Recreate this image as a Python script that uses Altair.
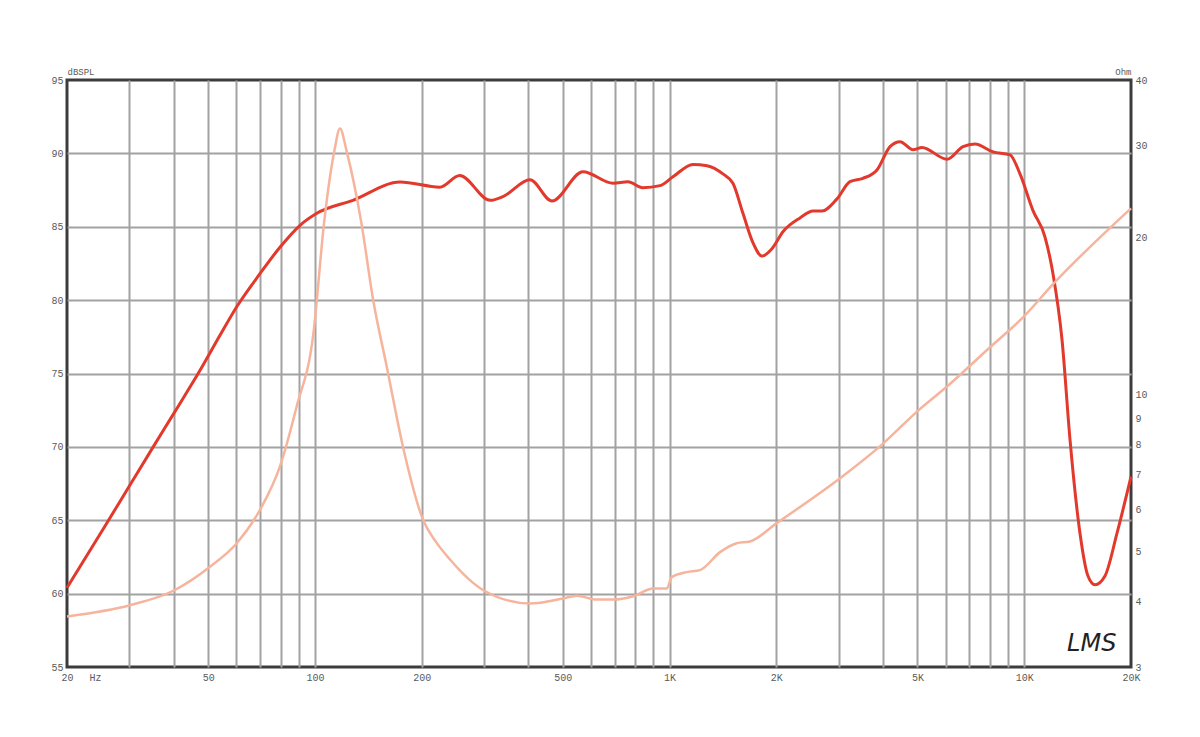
import altair as alt
import pandas as pd

# SPL response (Hz, dB SPL)
spl_freq = [20, 25.3, 30.1, 35.0, 40.3, 47.4, 54.0, 60.2, 70.0, 79.7, 90.8, 101, 128, 174,
            225, 256, 312, 339, 404, 466, 570, 693, 763, 841, 940, 1022, 1164, 1275, 1414,
            1509, 1611, 1719, 1822, 1944, 2088, 2332, 2538, 2690, 2966, 3226, 3510, 3844,
            4184, 4464, 4858, 5150, 6058, 6720, 7264, 8164, 9118, 9728, 10586, 11444,
            12052, 12780, 13460, 14364, 15126, 15830, 16890, 18256, 20000]
spl_db = [60.4, 64.4, 67.4, 70.0, 72.4, 75.2, 77.6, 79.55, 81.8, 83.6, 85.1, 85.9, 86.8, 88.05,
          87.7, 88.5, 86.8, 87.05, 88.2, 86.75, 88.75, 87.96, 88.07, 87.66, 87.8, 88.4, 89.25,
          89.16, 88.6, 87.96, 85.9, 83.9, 83.0, 83.5, 84.66, 85.6, 86.07, 86.07, 86.9, 88.07,
          88.3, 88.87, 90.46, 90.8, 90.25, 90.4, 89.6, 90.46, 90.64, 90.1, 89.9, 88.6, 86.1,
          84.3, 81.8, 77.3, 70.5, 64.1, 61.2, 60.6, 61.2, 64.1, 67.97]

# Impedance (Hz, Ohm)
imp_freq = [20, 30.1, 39.9, 50.6, 60.2, 70.0, 79.7, 88.8, 99, 106.3, 113.4, 117.7, 122.9,
            134.9, 146.1, 159.4, 177.2, 201.7, 219.5, 240.4, 298.5, 404, 501, 547, 623, 694,
            790, 900, 982, 1014, 1118, 1218, 1388, 1546, 1685, 2004, 3024, 4006, 4977, 6044,
            8008, 9937, 12076, 20000]
imp_ohm = [3.75, 3.94, 4.2, 4.67, 5.18, 6.0, 7.27, 9.46, 13.05, 21.5, 29.2, 32.3, 29.2,
           21.5, 15.1, 11.3, 7.92, 5.75, 5.21, 4.82, 4.21, 3.97, 4.06, 4.11, 4.04, 4.04,
           4.10, 4.24, 4.24, 4.46, 4.56, 4.6, 4.98, 5.18, 5.22, 5.66, 6.9, 8.05, 9.25, 10.33,
           12.3, 14.05, 16.27, 22.7]

x_ticks = [20, 30, 40, 50, 60, 70, 80, 90, 100, 200, 300, 400, 500, 600, 700, 800, 900,
           1000, 2000, 3000, 4000, 5000, 6000, 7000, 8000, 9000, 10000, 20000]
x_labels = {20: "20", 50: "50", 100: "100", 200: "200", 500: "500", 1000: "1K",
            2000: "2K", 5000: "5K", 10000: "10K", 20000: "20K"}
db_ticks = [55, 60, 65, 70, 75, 80, 85, 90, 95]
ohm_ticks = [3, 4, 5, 6, 7, 8, 9, 10, 20, 30, 40]

logo_freq = [15500]
logo_db = [56.6]
logo_text = ["LMS"]

FONT = "Liberation Mono"
LABEL_COLOR = "#5a5a5a"
GRID = "#a2a2a2"

label_expr = " : ".join(
    f"datum.value == {k} ? '{v}'" for k, v in x_labels.items()
) + " : ''"

x_grid_color = {"condition": {"test": "datum.value == 20 || datum.value == 20000",
                              "value": "transparent"}, "value": GRID}
y_grid_color = {"condition": {"test": "datum.value == 55 || datum.value == 95",
                              "value": "transparent"}, "value": GRID}

x_axis = alt.Axis(values=x_ticks, grid=True, gridColor=x_grid_color, gridWidth=2, ticks=False,
                  domain=False, labelExpr=label_expr, labelFont=FONT, labelFontSize=10,
                  labelColor=LABEL_COLOR, labelPadding=5, labelFlush=False,
                  title="Hz", titleFont=FONT, titleFontSize=10, titleFontWeight="normal",
                  titleColor=LABEL_COLOR, titleX=28, titleY=5, titleBaseline="top",
                  titleAlign="center")
x_scale = alt.Scale(type="log", domain=[20, 20000], nice=False)

db_axis = alt.Axis(orient="left", values=db_ticks, grid=True, gridColor=y_grid_color, gridWidth=2,
                   ticks=False, domain=False, labelFont=FONT, labelFontSize=10,
                   labelColor=LABEL_COLOR, labelPadding=4,
                   title="dBSPL", titleAngle=0, titleX=0, titleY=-4, titleAlign="left",
                   titleBaseline="bottom", titleFont=FONT, titleFontSize=9,
                   titleFontWeight="normal", titleColor=LABEL_COLOR)
db_scale = alt.Scale(domain=[55, 95], zero=False, nice=False)

spl_df = pd.DataFrame({"f": spl_freq, "v": spl_db})
imp_df = pd.DataFrame({"f": imp_freq, "v": imp_ohm})
logo_df = pd.DataFrame({"f": logo_freq, "v": logo_db, "t": logo_text})

red = alt.Chart(spl_df).mark_line(color="#e2392c", strokeWidth=3, interpolate="monotone").encode(
    x=alt.X("f:Q", scale=x_scale, axis=x_axis),
    y=alt.Y("v:Q", scale=db_scale, axis=db_axis),
)

logo = alt.Chart(logo_df).mark_text(font="DejaVu Sans", fontSize=24, fontStyle="italic",
                                    color="#222222").encode(
    x=alt.X("f:Q", scale=x_scale, axis=x_axis),
    y=alt.Y("v:Q", scale=db_scale, axis=db_axis),
    text="t:N",
)

pink = alt.Chart(imp_df).mark_line(color="#f6b49c", strokeWidth=2.5, interpolate="monotone").encode(
    x=alt.X("f:Q", scale=x_scale, axis=x_axis),
    y=alt.Y("v:Q", scale=alt.Scale(type="log", domain=[3, 40], nice=False),
            axis=alt.Axis(orient="right", values=ohm_ticks, grid=False, ticks=False, domain=False,
                          format="d", labelFont=FONT, labelFontSize=10, labelColor=LABEL_COLOR,
                          labelPadding=4, title="Ohm", titleAngle=0, titleX=0, titleY=-4,
                          titleAlign="right", titleBaseline="bottom", titleFont=FONT,
                          titleFontSize=9, titleFontWeight="normal", titleColor=LABEL_COLOR))
)

chart = alt.layer(alt.layer(red, logo), pink).resolve_scale(y="independent").properties(
    width=1064, height=587,
    autosize=alt.AutoSizeParams(type="none"),
    padding={"left": 59, "top": 72, "right": 50, "bottom": 30},
    background="white",
).configure_view(stroke="#3c3c3c", strokeWidth=3)

chart.save("out.html", embed_options={"renderer": "svg", "actions": False})
